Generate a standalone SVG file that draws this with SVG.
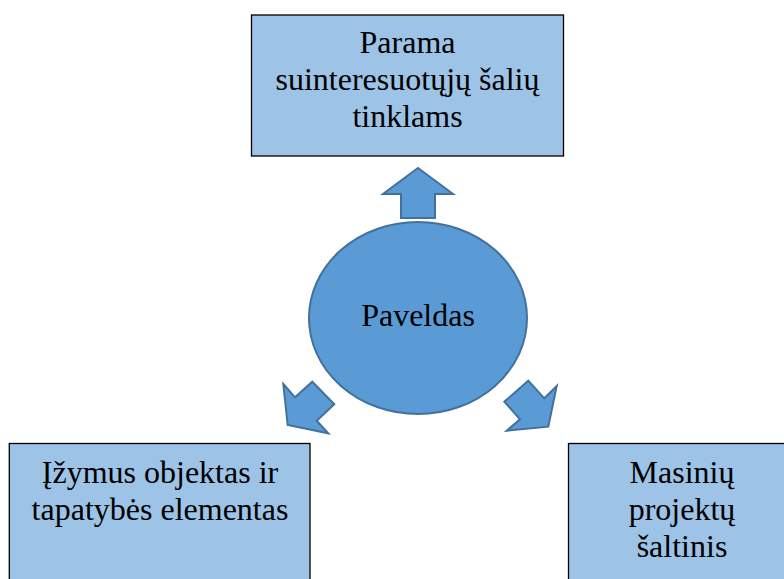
<svg xmlns="http://www.w3.org/2000/svg" width="784" height="579" viewBox="0 0 784 579">
<style>
.box{fill:#9DC3E6;stroke:#000;stroke-width:1.3}
.blue{fill:#5B9BD5;stroke:#41719C;stroke-width:2}
text{font-family:"Liberation Serif","Times New Roman",serif;font-size:32px;fill:#000;text-anchor:middle}
</style>
<rect width="784" height="579" fill="#fff"/>
<g id="connectors">
<polygon class="blue" points="418,168 453,194 435,194 435,218 401,218 401,194 383,194"/>
<polygon class="blue" points="283.3,384 295,397.3 312.3,381.7 334.3,404.3 316.7,420.7 328.3,433.3 287.7,425"/>
<polygon class="blue" points="528.3,380.7 544.3,398.3 556.7,386 548.3,426.7 506.7,430.7 520,419.3 504.3,401.7"/>
</g>
<g id="node-paveldas">
<ellipse class="blue" cx="418" cy="318" rx="109" ry="96"/>
<text x="418" y="326">Paveldas</text>
</g>
<g id="node-parama">
<rect class="box" x="251.5" y="15" width="312" height="141"/>
<text x="407.5" y="53">Parama</text>
<text x="407.5" y="90">suinteresuotųjų šalių</text>
<text x="407.5" y="127">tinklams</text>
</g>
<g id="node-izymus">
<rect class="box" x="9.3" y="443.5" width="300.7" height="145"/>
<text x="160" y="483">Įžymus objektas ir</text>
<text x="160" y="520">tapatybės elementas</text>
</g>
<g id="node-masiniu">
<rect class="box" x="568.5" y="443.5" width="230" height="145"/>
<text x="682" y="483">Masinių</text>
<text x="682" y="520">projektų</text>
<text x="682" y="557">šaltinis</text>
</g>
</svg>
